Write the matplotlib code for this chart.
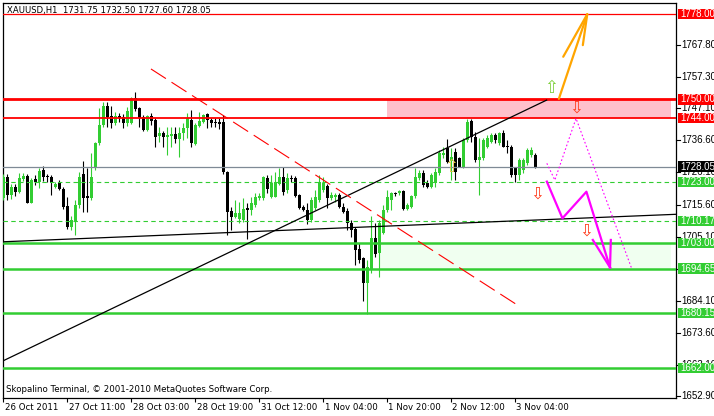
import matplotlib
matplotlib.use("Agg")
import matplotlib.pyplot as plt
from matplotlib.patches import Rectangle
from matplotlib.transforms import blended_transform_factory

plt.rcParams['font.family'] = ['DejaVu Sans']
plt.rcParams['font.size'] = 6

# ---------------- data (XAUUSD H1 candles) ----------------
opens = [1717.7, 1724.6, 1718.7, 1721.4, 1719.7, 1723.9, 1724.9, 1716.1, 1723.9, 1723.0,
         1726.9, 1724.9, 1724.6, 1721.3, 1722.6, 1720.7, 1715.1, 1708.3, 1710.2, 1715.5,
         1725.6, 1718.4, 1717.7, 1727.6, 1735.8, 1741.6, 1747.9, 1744.6, 1742.3, 1744.6,
         1744.3, 1742.3, 1742.3, 1750.5, 1747.2, 1744.3, 1740.0, 1744.6, 1743.3, 1738.0,
         1739.0, 1737.7, 1738.0, 1738.7, 1737.1, 1739.0, 1740.7, 1743.3, 1735.4, 1741.3,
         1742.6, 1745.3, 1743.3, 1742.6, 1742.6, 1742.6, 1726.3, 1713.5, 1711.5, 1710.9,
         1710.5, 1714.5, 1713.8, 1715.5, 1717.7, 1717.7, 1724.3, 1718.0, 1718.0, 1722.3,
         1724.6, 1720.4, 1724.3, 1724.3, 1718.7, 1714.8, 1713.8, 1710.5, 1714.5, 1717.1,
         1720.4, 1721.7, 1717.7, 1718.0, 1718.7, 1714.8, 1713.5, 1709.6, 1707.6, 1701.0,
         1698.1, 1689.9, 1694.5, 1704.6, 1699.7, 1706.3, 1713.8, 1717.1, 1719.4, 1719.4,
         1720.0, 1714.1, 1714.8, 1718.4, 1724.3, 1725.9, 1722.6, 1721.3, 1722.7, 1726.0,
         1731.8, 1734.1, 1729.9, 1732.8, 1730.8, 1727.9, 1736.7, 1743.0, 1737.7, 1730.2,
         1730.8, 1734.4, 1736.1, 1738.4, 1735.8, 1739.0, 1734.8, 1734.4, 1727.6, 1725.3,
         1726.9, 1729.2, 1731.8, 1731.75]
highs = [1725.6, 1725.6, 1722.3, 1722.3, 1726.0, 1726.0, 1725.6, 1724.3, 1725.3, 1727.6,
         1728.2, 1725.6, 1725.3, 1723.0, 1723.6, 1721.3, 1718.0, 1711.8, 1717.1, 1726.3,
         1729.9, 1727.6, 1732.5, 1736.1, 1747.2, 1749.2, 1749.2, 1747.9, 1745.9, 1745.6,
         1745.3, 1747.5, 1750.8, 1752.5, 1747.5, 1744.9, 1744.9, 1745.6, 1743.9, 1741.0,
         1739.7, 1741.0, 1741.0, 1741.0, 1741.0, 1742.3, 1745.6, 1746.6, 1742.3, 1745.9,
         1745.3, 1745.6, 1743.9, 1743.9, 1743.9, 1745.0, 1726.6, 1714.8, 1717.1, 1716.4,
         1717.7, 1716.1, 1718.0, 1719.4, 1719.4, 1724.9, 1725.3, 1725.3, 1726.3, 1727.6,
         1727.9, 1726.0, 1725.3, 1724.9, 1719.1, 1715.5, 1716.1, 1718.0, 1720.4, 1725.3,
         1724.6, 1722.3, 1719.7, 1719.4, 1719.4, 1716.1, 1714.5, 1710.5, 1708.3, 1703.0,
         1698.4, 1697.4, 1711.8, 1709.6, 1710.5, 1715.5, 1720.4, 1719.7, 1719.7, 1720.4,
         1720.4, 1716.1, 1718.7, 1727.6, 1726.9, 1726.9, 1723.6, 1725.9, 1727.6, 1733.5,
         1734.4, 1737.1, 1734.1, 1734.1, 1731.2, 1737.4, 1743.6, 1743.6, 1739.4, 1737.4,
         1737.4, 1738.4, 1739.0, 1739.0, 1739.4, 1740.0, 1736.7, 1735.1, 1727.9, 1730.8,
         1730.8, 1734.1, 1734.4, 1732.50]
lows = [1717.1, 1717.1, 1717.4, 1718.4, 1719.4, 1723.3, 1716.0, 1716.0, 1722.0, 1721.0,
        1723.3, 1723.0, 1718.7, 1721.0, 1720.4, 1714.1, 1707.6, 1707.3, 1705.6, 1714.5,
        1713.2, 1713.2, 1717.1, 1726.9, 1735.1, 1741.0, 1741.0, 1740.7, 1741.6, 1742.6,
        1740.7, 1741.3, 1742.0, 1746.3, 1741.0, 1739.7, 1739.7, 1741.6, 1734.4, 1736.1,
        1734.4, 1731.8, 1734.4, 1735.8, 1731.2, 1736.7, 1737.4, 1734.4, 1735.1, 1741.0,
        1742.3, 1740.7, 1741.0, 1741.0, 1740.4, 1725.6, 1705.6, 1707.3, 1711.2, 1709.6,
        1709.9, 1704.3, 1712.2, 1714.8, 1717.1, 1717.1, 1719.4, 1717.7, 1718.0, 1722.0,
        1718.7, 1719.4, 1723.0, 1718.0, 1714.1, 1713.5, 1709.2, 1709.9, 1713.8, 1716.4,
        1719.7, 1714.5, 1717.1, 1716.4, 1714.5, 1712.8, 1707.3, 1705.0, 1695.8, 1696.4,
        1684.0, 1679.8, 1693.2, 1698.4, 1691.9, 1706.0, 1713.2, 1713.8, 1718.4, 1718.7,
        1713.8, 1713.8, 1714.5, 1717.7, 1723.6, 1721.3, 1721.0, 1721.0, 1721.3, 1725.3,
        1730.8, 1729.2, 1723.6, 1723.6, 1727.9, 1727.6, 1736.1, 1736.1, 1729.5, 1718.7,
        1730.2, 1734.1, 1735.8, 1735.8, 1735.1, 1734.4, 1732.5, 1724.6, 1723.0, 1723.6,
        1725.9, 1728.5, 1731.2, 1727.60]
closes = [1724.6, 1718.7, 1721.4, 1719.7, 1724.3, 1724.9, 1716.1, 1723.6, 1723.0, 1726.6,
          1724.6, 1724.6, 1722.6, 1722.3, 1720.7, 1714.8, 1708.3, 1710.5, 1715.5, 1724.6,
          1717.7, 1717.7, 1724.6, 1735.8, 1741.6, 1747.9, 1744.3, 1742.3, 1744.6, 1743.9,
          1742.3, 1746.2, 1750.5, 1746.9, 1743.9, 1740.0, 1744.6, 1743.0, 1737.7, 1739.0,
          1737.7, 1738.4, 1738.7, 1737.1, 1739.0, 1740.7, 1743.9, 1735.8, 1741.6, 1743.0,
          1744.9, 1743.3, 1742.3, 1742.3, 1742.0, 1726.3, 1713.2, 1711.5, 1712.8, 1712.8,
          1714.1, 1713.8, 1716.1, 1718.0, 1718.4, 1724.6, 1720.7, 1722.6, 1723.0, 1724.6,
          1719.7, 1724.3, 1724.0, 1718.4, 1714.5, 1713.8, 1710.5, 1717.1, 1718.0, 1723.0,
          1722.6, 1717.7, 1718.7, 1718.7, 1714.8, 1713.2, 1709.6, 1707.3, 1700.7, 1697.4,
          1689.9, 1695.1, 1704.6, 1699.4, 1709.6, 1713.8, 1718.0, 1719.4, 1719.1, 1720.0,
          1714.1, 1715.5, 1718.4, 1724.6, 1725.9, 1722.0, 1721.3, 1725.3, 1726.3, 1732.5,
          1732.5, 1729.5, 1731.2, 1726.3, 1727.9, 1736.7, 1742.6, 1737.7, 1730.2, 1731.2,
          1736.7, 1737.4, 1738.4, 1736.7, 1739.0, 1734.4, 1734.4, 1725.3, 1725.3, 1730.2,
          1730.2, 1733.5, 1733.5, 1728.05]

title_text = "XAUUSD,H1  1731.75 1732.50 1727.60 1728.05"
copyright_text = "Skopalino Terminal, \u00a9 2001-2010 MetaQuotes Software Corp."

x_tick_bars = [0, 16, 32, 48, 64, 80, 96, 112, 128]
x_tick_labels = ["26 Oct 2011", "27 Oct 11:00", "28 Oct 03:00", "28 Oct 19:00",
                 "31 Oct 12:00", "1 Nov 04:00", "1 Nov 20:00", "2 Nov 12:00", "3 Nov 04:00"]

y_tick_values = [1767.80, 1757.30, 1747.10, 1736.60, 1726.10, 1715.60, 1705.10,
                 1694.60, 1684.10, 1673.60, 1663.10, 1652.90]

red_levels = [1778.00, 1750.00, 1744.00]
green_solid_levels = [1703.00, 1694.65, 1680.15, 1662.00]
green_dashed_levels = [1723.00, 1710.17]
bid_price = 1728.05

label_levels = [1778.00, 1750.00, 1744.00, 1728.05, 1723.00, 1710.17,
                1703.00, 1694.65, 1680.15, 1662.00]
label_kinds = ["red", "red", "red", "bid", "green", "green",
               "green", "green", "green", "green"]

# zones: (bar start, bar end, low, high)
resist_zone = (95.9, 166.9, 1744.00, 1750.00)
support_zone = (94.0, 166.9, 1694.65, 1703.00)

# trend lines (bar, price)
flat_line_x = [-0.1, 168.2]
flat_line_y = [1703.4, 1712.4]
rise_line_x = [-0.1, 135.85]
rise_line_y = [1664.4, 1749.8]
red_dash_x = [36.9, 128.75]
red_dash_y = [1760.0, 1682.5]

# orange bullish arrow
orange_x = [138.9, 146.0]
orange_y = [1750.2, 1777.9]
orange_barb1 = ([140.0, 146.0], [1764.0, 1777.9])
orange_barb2 = ([144.9, 146.0], [1767.8, 1777.9])

# magenta bearish scenario (solid)
mag_x = [135.9, 139.8, 145.8, 151.7]
mag_y = [1723.1, 1711.1, 1719.8, 1695.0]
mag_barb1 = ([151.9, 151.7], [1704.0, 1695.0])
mag_barb2 = ([147.4, 151.7], [1704.0, 1695.0])

# magenta dotted scenario
mdot_x = [135.9, 137.9, 143.2, 157.1]
mdot_y = [1729.1, 1723.6, 1743.8, 1694.7]

# arrow symbols (bar, price)
up_arrows = [(136.9, 1753.7, "#7ccf3a"), (111.9, 1728.0, "#e2c243")]
down_arrows = [(143.3, 1747.3), (133.35, 1719.3), (145.6, 1706.9)]

# ---------------- figure ----------------
W, H = 714, 416
fig = plt.figure(figsize=(W / 100, H / 100), dpi=100)
fig.patch.set_facecolor("white")

ax_l, ax_r, ax_t, ax_b = 3, 676, 3, 398
ax = fig.add_axes([ax_l / W, 1 - ax_b / H, (ax_r - ax_l) / W, (ax_b - ax_t) / H])
ymin, ymax = 1652.24, 1781.6
ax.set_xlim(-0.1, 168.2)
ax.set_ylim(ymin, ymax)
ax.set_yticks([])
for s in ax.spines.values():
    s.set_color("black")
    s.set_linewidth(0.9)

GREEN = "#32cd32"
RED = "#ff0000"

# zones
ax.add_patch(Rectangle((resist_zone[0], resist_zone[2]), resist_zone[1] - resist_zone[0],
                       resist_zone[3] - resist_zone[2], facecolor="#ffc0cb", edgecolor="none", zorder=1))
ax.add_patch(Rectangle((support_zone[0], support_zone[2]), support_zone[1] - support_zone[0],
                       support_zone[3] - support_zone[2], facecolor="#f0fff0", edgecolor="none", zorder=1))

# candles
for i, (o, h, l, c) in enumerate(zip(opens, highs, lows, closes)):
    col = GREEN if c >= o else "black"
    ax.vlines(i, l, h, color=col, lw=0.8, zorder=3)
    lo, hi = min(o, c), max(o, c)
    hgt = max(hi - lo, 0.35)
    ax.bar(i, hgt, bottom=lo, width=0.75, color=col, linewidth=0, zorder=3)

# horizontal levels
for lv in red_levels:
    lw = 2.0 if lv == 1750.00 else (1.3 if lv == 1744.00 else 0.9)
    ax.axhline(lv, color=RED, lw=lw, zorder=4)
for lv in green_solid_levels:
    ax.axhline(lv, color=GREEN, lw=1.8, zorder=4)
for lv in green_dashed_levels:
    ax.axhline(lv, color=GREEN, lw=0.8, ls=(0, (4, 3)), zorder=4)
ax.axhline(bid_price, color="#7f8a96", lw=0.9, zorder=4)

# trend lines
ax.plot(flat_line_x, flat_line_y, color="black", lw=0.9, zorder=5)
ax.plot(rise_line_x, rise_line_y, color="black", lw=0.9, zorder=5)
ax.plot(red_dash_x, red_dash_y, color=RED, lw=0.8, ls=(0, (16, 6)), zorder=5)

# orange arrow
for xs, ys in [(orange_x, orange_y), orange_barb1, orange_barb2]:
    ax.plot(xs, ys, color="#ffa500", lw=1.6, zorder=6, solid_capstyle="round")

# magenta scenarios
ax.plot(mag_x, mag_y, color="#ff00ff", lw=1.6, zorder=6)
ax.plot(*mag_barb1, color="#ff00ff", lw=1.6, zorder=6)
ax.plot(*mag_barb2, color="#ff00ff", lw=1.6, zorder=6)
ax.plot(mdot_x, mdot_y, color="#ff00ff", lw=0.8, ls=(0, (1.5, 2)), zorder=6)

# arrow symbols
for bx, py, col in up_arrows:
    ax.text(bx, py, "\u21e7", color=col, fontsize=12, ha="center", va="center", zorder=7)
for bx, py in down_arrows:
    ax.text(bx, py, "\u21e9", color="#ff3a1a", fontsize=12, ha="center", va="center", zorder=7)

# texts
ax.text(0.006, 1 - (10 - ax_t) / (ax_b - ax_t), title_text,
        transform=ax.transAxes, ha="left", va="center", fontsize=6.1, zorder=8)
ax.text(0.004, 1 - (390 - ax_t) / (ax_b - ax_t), copyright_text,
        transform=ax.transAxes, ha="left", va="center", fontsize=6.2, zorder=8)

# x axis
ax.set_xticks(x_tick_bars)
ax.set_xticklabels([])
ax.tick_params(axis="x", direction="out", length=3, width=0.8, color="black")
tr = blended_transform_factory(ax.transData, fig.transFigure)
for b, lab in zip(x_tick_bars, x_tick_labels):
    ax.text(b + 0.3, 1 - 407 / H, lab, transform=tr, ha="left", va="center",
            fontsize=6.2, clip_on=False)

# right price scale
rax = fig.add_axes([ax_r / W, 1 - ax_b / H, (W - ax_r) / W, (ax_b - ax_t) / H])
rax.set_xlim(0, 1)
rax.set_ylim(ymin, ymax)
rax.axis("off")
LBL_FONT = ["Liberation Sans", "DejaVu Sans"]
for v in y_tick_values:
    rax.plot([0, 0.1], [v, v], color="black", lw=0.8, clip_on=False)
    rax.text(0.15, v, f"{v:.2f}", ha="left", va="center", fontsize=7, color="black",
             family=LBL_FONT, zorder=2, clip_on=False)
box_h = 3.3
for v, kind in zip(label_levels, label_kinds):
    fc = {"red": RED, "green": GREEN, "bid": "black"}[kind]
    rax.add_patch(Rectangle((0.05, v - box_h / 2), 1.0, box_h, facecolor=fc,
                            edgecolor="none", zorder=3, clip_on=False))
    rax.text(0.12, v, f"{v:.2f}", ha="left", va="center", fontsize=7, color="white",
             family=LBL_FONT, zorder=4, clip_on=False)

fig.savefig("out.png", dpi=100, facecolor="white")
